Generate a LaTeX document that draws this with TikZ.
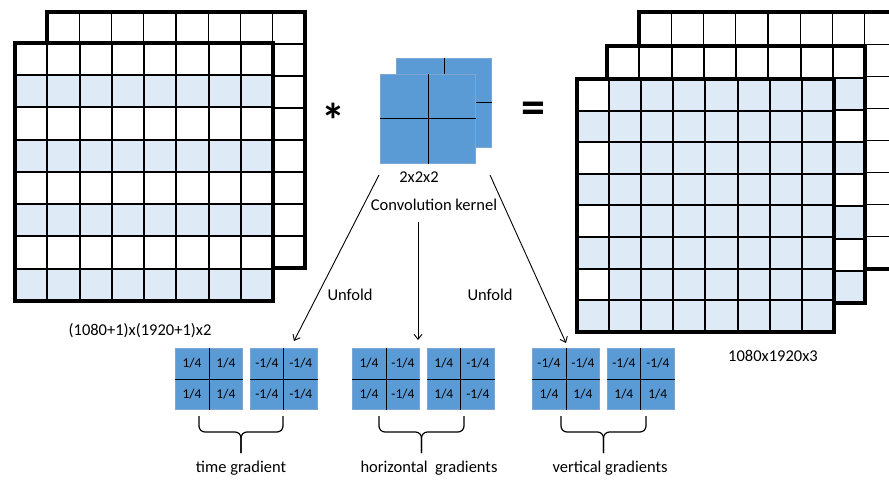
\documentclass[tikz,border=0pt]{standalone}
\usepackage{fontspec}
\setmainfont{Carlito}
\usetikzlibrary{calc,positioning,arrows.meta}

\definecolor{rowblue}{HTML}{DEEBF7}
\definecolor{kernblue}{HTML}{5B9BD5}
\definecolor{kernedge}{HTML}{7EA6D3}

\tikzset{
  frame/.style={line width=3.6pt},
  thickcell/.style={line width=2pt},
  thincell/.style={line width=1.1pt},
  kern/.style={rectangle, draw=kernedge, fill=kernblue, line width=0.9pt,
    inner sep=0pt, anchor=north west, minimum width=67pt, minimum height=61pt},
  kline/.style={line width=0.9pt},
  val/.style={font=\fontsize{13.5}{15}\selectfont, inner sep=0pt},
  lbl/.style={font=\fontsize{16.5}{19}\selectfont, inner sep=0pt},
  op/.style={font=\fontsize{48}{48}\selectfont\bfseries, inner sep=0pt},
  unfold/.style={-{Straight Barb[length=5pt,width=8pt]}, line width=0.9pt},
  bracket/.style={rounded corners=6pt, line width=1.2pt},
}

% inner lines and frame of an 8x8 sheet: x0, y0, cell w, cell h, line style
\newcommand{\sheetlines}[5]{%
  \foreach \i in {1,...,7} {
    \draw[#5] ({#1+\i*#3},#2) -- ({#1+\i*#3},{#2+8*#4});
    \draw[#5] (#1,{#2+\i*#4}) -- ({#1+8*#3},{#2+\i*#4});
  }
  \draw[frame] (#1,#2) rectangle ({#1+8*#3},{#2+8*#4});
}

% 2x2 kernel: name, placement, four values
\newcommand{\kernelbox}[6]{%
  \node[kern, #2] (#1) {};
  \draw[kline] (#1.north) -- (#1.south);
  \draw[kline] (#1.west) -- (#1.east);
  \node[val] (#1-a) at ($(#1.center)!0.5!(#1.north west)$) {#3};
  \node[val] (#1-b) at ($(#1.center)!0.5!(#1.north east)$) {#4};
  \node[val] (#1-c) at ($(#1.center)!0.5!(#1.south west)$) {#5};
  \node[val] (#1-d) at ($(#1.center)!0.5!(#1.south east)$) {#6};
}

% brace under a pair: name, left x, right x
\newcommand{\pairbrace}[3]{%
  \coordinate (#1) at ({(#2+#3)/2},453);
  \draw[bracket] (#2,416) -- (#2,432) -- ({(#2+#3)/2},432) -- (#1);
  \draw[bracket] (#3,416) -- (#3,432) -- ({(#2+#3)/2},432) -- (#1);
}

\begin{document}
\begin{tikzpicture}[x=1pt, y=-1pt]
  \useasboundingbox (0,0) rectangle (889,481);
  \clip (0,0) rectangle (889,481);

  % input frames
  \fill[white] (47,12) rectangle (305,268);
  \sheetlines{47}{12}{32.25}{32}{thincell}
  \fill[white] (15,43) rectangle (273,301);
  \foreach \r in {1,3,5,7}
    \fill[rowblue] (15,{43+\r*32.25}) rectangle (273,{43+(\r+1)*32.25});
  \sheetlines{15}{43}{32.25}{32.25}{thickcell}

  % output frames
  \fill[white] (639,12) rectangle (897,269);
  \sheetlines{639}{12}{32.25}{32.1}{thincell}
  \fill[white] (607,46) rectangle (865,303);
  \foreach \r in {1,3,5,7}
    \fill[rowblue] (607,{46+\r*32.1}) rectangle (865,{46+(\r+1)*32.1});
  \sheetlines{607}{46}{32.25}{32.1}{thickcell}
  \fill[rowblue] (577,79) rectangle (834,332);
  \foreach \r in {0,2,4,6}
    \fill[white] (577,{79+\r*31.6}) rectangle ({577+32.1},{79+(\r+1)*31.6});
  \sheetlines{577}{79}{32.1}{31.6}{thickcell}

  % convolution kernel
  \node[kern, minimum width=95pt, minimum height=89pt] (kback) at (396,58) {};
  \draw[kline] (kback.north) -- (kback.south);
  \draw[kline] (kback.west) -- (kback.east);
  \node[kern, minimum width=95pt, minimum height=89pt] (kfront) at (380,74) {};
  \draw[kline] (kfront.north) -- (kfront.south);
  \draw[kline] (kfront.west) -- (kfront.east);

  \node[op] (star) at (333,120) {*};
  \node[op] (equal) at (533,113) {=};

  \node[lbl] (ksize) at (419,177) {2x2x2};
  \node[lbl] (kname) at (434,205) {Convolution kernel};
  \node[lbl] (insize) at (140,331) {(1080+1)x(1920+1)x2};
  \node[lbl] (outsize) at (773,356) {1080x1920x3};

  % unfolded kernels
  \kernelbox{time1}{at={(175,348)}}{1/4}{1/4}{1/4}{1/4}
  \kernelbox{time2}{right=7pt of time1}{-1/4}{-1/4}{-1/4}{-1/4}
  \kernelbox{hor1}{at={(352,348)}}{1/4}{-1/4}{1/4}{-1/4}
  \kernelbox{hor2}{right=7pt of hor1}{1/4}{-1/4}{1/4}{-1/4}
  \kernelbox{ver1}{at={(532,348)}}{-1/4}{-1/4}{1/4}{1/4}
  \kernelbox{ver2}{right=7pt of ver1}{-1/4}{-1/4}{1/4}{1/4}

  \coordinate (leftstart) at (379,175);
  \coordinate (leftend) at (294,341);
  \coordinate (midstart) at (418,222);
  \coordinate (midend) at (418,340);
  \coordinate (rightstart) at (490,175);
  \coordinate (rightend) at (566,343);
  \draw[unfold] (leftstart) -- (leftend);
  \draw[unfold] (midstart) -- (midend);
  \draw[unfold] (rightstart) -- (rightend);
  \node[lbl] (unfoldL) at (350,295) {Unfold};
  \node[lbl] (unfoldR) at (490,295) {Unfold};

  \pairbrace{timetip}{199}{283}
  \pairbrace{hortip}{379}{464}
  \pairbrace{vertip}{561}{646}
  \node[lbl] (tgrad) at (241,468) {time gradient};
  \node[lbl] (hgrad) at (429,468) {horizontal\ \ gradients};
  \node[lbl] (vgrad) at (610,468) {vertical gradients};

\end{tikzpicture}
\end{document}
